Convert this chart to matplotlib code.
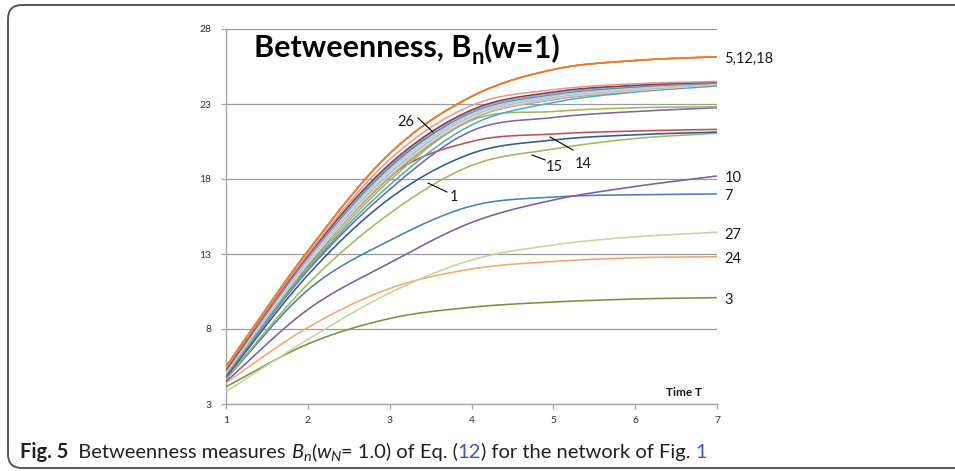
import numpy as np
import matplotlib
matplotlib.use("Agg")
import matplotlib.pyplot as plt
from matplotlib.patches import FancyBboxPatch
from matplotlib.transforms import IdentityTransform

# ---------------- data ----------------
T = [1, 2, 3, 4, 5, 6, 7]

n5_12_18 = [5.5, 13.2, 19.7, 23.5, 25.3, 25.9, 26.15]
n26 = [5.4, 13.0, 19.3, 22.9, 23.95, 24.35, 24.5]
bundle_a = [5.3, 12.9, 19.0, 22.6, 23.8, 24.25, 24.45]
bundle_b = [5.3, 12.8, 18.9, 22.5, 23.7, 24.2, 24.42]
bundle_c = [5.25, 12.75, 18.8, 22.45, 23.65, 24.15, 24.4]
bundle_d = [5.2, 12.7, 18.7, 22.4, 23.6, 24.1, 24.38]
bundle_e = [5.2, 12.6, 18.6, 22.3, 23.55, 24.05, 24.36]
bundle_f = [5.15, 12.55, 18.5, 22.25, 23.5, 24.0, 24.35]
bundle_g = [5.1, 12.5, 18.4, 22.2, 23.45, 23.95, 24.33]
bundle_h = [5.1, 12.4, 18.3, 22.1, 23.4, 23.9, 24.32]
bundle_i = [5.05, 12.35, 18.2, 22.05, 23.35, 23.9, 24.3]
bundle_j = [5.05, 12.3, 18.15, 22.0, 23.3, 23.88, 24.29]
bundle_k = [5.0, 12.3, 18.1, 22.0, 23.3, 23.85, 24.27]
cyan_c = [5.0, 12.0, 17.6, 21.6, 23.1, 23.8, 24.2]
green_c = [5.0, 12.1, 17.9, 21.9, 22.5, 22.75, 22.82]
purple_c = [4.9, 11.9, 17.3, 21.2, 22.1, 22.5, 22.75]
n14 = [5.0, 12.2, 18.2, 20.5, 21.0, 21.2, 21.31]
n1 = [4.8, 11.6, 16.7, 19.7, 20.6, 20.95, 21.13]
n15 = [4.7, 11.0, 15.7, 18.9, 20.0, 20.7, 21.05]
n10 = [4.5, 9.3, 12.4, 15.1, 16.6, 17.5, 18.2]
n7 = [4.67, 10.6, 13.9, 16.2, 16.8, 16.95, 17.0]
n27 = [3.82, 7.3, 10.4, 12.6, 13.6, 14.15, 14.45]
n24 = [4.42, 8.1, 10.7, 12.0, 12.5, 12.75, 12.82]
n3 = [4.15, 7.0, 8.7, 9.45, 9.8, 10.0, 10.09]

yticks = [3, 8, 13, 18, 23, 28]
end_labels = ["5,12,18", "10", "7", "27", "24", "3"]
end_values = [n5_12_18[-1], n10[-1], n7[-1], n27[-1], n24[-1], n3[-1]]

# ---------------- figure ----------------
W, H = 955, 471
fig = plt.figure(figsize=(W / 100, H / 100), dpi=100)
fig.patch.set_facecolor("white")
ax = fig.add_axes([226 / W, 1 - 404 / H, (717 - 226) / W, (404 - 29) / H])


def smooth(xs, ys, n=40):
    xs = np.asarray(xs, float)
    ys = np.asarray(ys, float)
    m = np.zeros_like(ys)
    m[1:-1] = (ys[2:] - ys[:-2]) / (xs[2:] - xs[:-2])
    m[0] = (ys[1] - ys[0]) / (xs[1] - xs[0])
    m[-1] = (ys[-1] - ys[-2]) / (xs[-1] - xs[-2])
    ox, oy = [], []
    for i in range(len(xs) - 1):
        h = xs[i + 1] - xs[i]
        t = np.linspace(0, 1, n, endpoint=(i == len(xs) - 2))
        h00 = 2 * t**3 - 3 * t**2 + 1
        h10 = t**3 - 2 * t**2 + t
        h01 = -2 * t**3 + 3 * t**2
        h11 = t**3 - t**2
        ox.append(xs[i] + t * h)
        oy.append(h00 * ys[i] + h10 * h * m[i] + h01 * ys[i + 1] + h11 * h * m[i + 1])
    return np.concatenate(ox), np.concatenate(oy)


series = [
    (n3, "#77933C"),
    (n24, "#F9A46E"),
    (n27, "#C3D69B"),
    (n7, "#4A7EBB"),
    (n10, "#7A5EA0"),
    (n15, "#9BBB59"),
    (n1, "#2F5A8F"),
    (n14, "#C0504D"),
    (purple_c, "#8064A2"),
    (green_c, "#9BBB59"),
    (cyan_c, "#4BACC6"),
    (bundle_k, "#E46C0A"),
    (bundle_j, "#B3A2C7"),
    (bundle_i, "#93CDDD"),
    (bundle_h, "#FCD5B5"),
    (bundle_g, "#95B3D7"),
    (bundle_f, "#D7E4BD"),
    (bundle_e, "#CCC1DA"),
    (bundle_d, "#B9CDE5"),
    (bundle_c, "#31859C"),
    (bundle_b, "#8EB4E3"),
    (bundle_a, "#953735"),
    (n26, "#DA9B99"),
    (n5_12_18, "#EC7C30"),
    (n5_12_18, "#EC7C30"),
    (n5_12_18, "#EC7C30"),
]
for vals, col in series:
    sx, sy = smooth(T, vals)
    ax.plot(sx, sy, color=col, lw=1.15, solid_capstyle="round", zorder=3)

ax.set_xlim(1, 7)
ax.set_ylim(3, 28)
ax.set_xticks(T)
ax.set_yticks(yticks)
ax.set_xticklabels([str(t) for t in T])
ax.set_yticklabels([str(v) for v in yticks])
ax.grid(axis="y", color="#9A9A9A", lw=0.9, zorder=1)
ax.grid(axis="x", visible=False)
for s in ["top", "right"]:
    ax.spines[s].set_visible(False)
for s in ["left", "bottom"]:
    ax.spines[s].set_color("#A6A6A6")
    ax.spines[s].set_linewidth(1.0)
ax.tick_params(axis="both", direction="out", length=3.5, width=0.9, color="#A6A6A6",
               labelsize=7.5, labelcolor="#333333")
ax.tick_params(axis="y", pad=7)
ax.tick_params(axis="x", pad=5)
for lab in ax.get_xticklabels() + ax.get_yticklabels():
    lab.set_fontfamily("Lato")

# end labels
for lab, v in zip(end_labels, end_values):
    ax.text(7.09, v - 0.15, lab, fontsize=10.5, family="Lato", color="#1a1a1a",
            va="center", ha="left", clip_on=False)

# annotations with leader lines
ann = [
    ("26", (3.20, 21.87), (3.346, 22.07), (3.53, 21.13)),
    ("1", (3.79, 16.93), (3.469, 17.73), (3.70, 17.13)),
    ("15", (5.01, 18.93), (4.74, 19.60), (4.90, 19.27)),
    ("14", (5.36, 19.13), (4.96, 20.80), (5.24, 19.93)),
]
for lab, tp, p0, p1 in ann:
    ax.text(tp[0], tp[1] - 0.1, lab, fontsize=10.5, family="Lato", color="#1a1a1a",
            ha="center", va="center", zorder=5)
    ax.plot([p0[0], p1[0]], [p0[1], p1[1]], color="black", lw=0.8, zorder=5)

ax.text(0.969, 0.032, "Time T", transform=ax.transAxes, fontsize=8.5, family="Lato",
        weight="bold", ha="right", va="center", color="#1a1a1a")

fig.canvas.draw()
r = fig.canvas.get_renderer()


def layout(pieces, x0, y0, base, target):
    texts = []

    def build(size):
        for t in texts:
            t.remove()
        texts.clear()
        x = x0
        for s, props, dy, mult in pieces:
            t = fig.text(x / W, (y0 + dy) / H, s, fontsize=size * mult,
                         va="baseline", ha="left", **props)
            x += t.get_window_extent(renderer=r).width
            texts.append(t)
        return x - x0

    w = build(base)
    build(base * target / w)


bold = dict(family="Lato", weight="bold", color="black")
layout([("Betweenness, B", bold, 0, 1.0), ("n", bold, -7, 0.72), ("(w=1)", bold, 0, 1.0)],
       254, H - 57, 20, 306)

cap = dict(family="Lato", color="#231F20")
capi = dict(family="Lato", style="italic", color="#231F20")
capb = dict(family="Lato", weight="bold", color="#231F20")
blue = dict(family="Lato", color="#3B55C8")
layout([
    ("Fig. 5", capb, 0, 1.0),
    ("  Betweenness measures ", cap, 0, 1.0),
    ("B", capi, 0, 1.0),
    ("n", capi, -3, 0.72),
    ("(", cap, 0, 1.0),
    ("w", capi, 0, 1.0),
    ("N", capi, -3, 0.72),
    ("= 1.0) of Eq. (", cap, 0, 1.0),
    ("12", blue, 0, 1.0),
    (") for the network of Fig. ", cap, 0, 1.0),
    ("1", blue, 0, 1.0),
], 20, H - 458, 12, 686)

frame = FancyBboxPatch((8, 3), 990, H - 8, boxstyle="round,pad=0,rounding_size=14",
                       fill=False, edgecolor="#555555", lw=1.4, transform=IdentityTransform())
fig.add_artist(frame)

fig.savefig("out.png", dpi=100, facecolor="white")
